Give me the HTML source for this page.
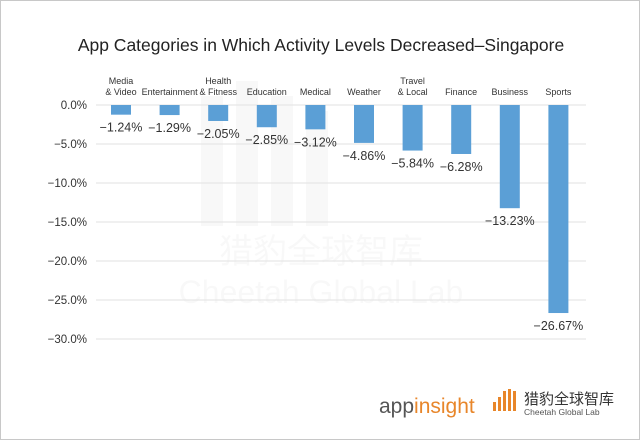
<!DOCTYPE html>
<html><head><meta charset="utf-8"><style>
body{margin:0;background:#fff}
#wrap{position:relative;width:638px;height:438px;border:1px solid #c8c8c8;background:#fff;overflow:hidden}
svg{position:absolute;left:0;top:0}
text{font-family:"Liberation Sans","Noto Sans CJK SC",sans-serif}
</style></head><body>
<div id="wrap">
<svg id="c" width="640" height="440">
<g opacity="0.025">
<rect x="200" y="95" width="22" height="130" fill="#000"/><rect x="235" y="80" width="22" height="145" fill="#000"/><rect x="270" y="95" width="22" height="130" fill="#000"/><rect x="305" y="110" width="22" height="115" fill="#000"/>
<text x="320" y="262" font-size="34" text-anchor="middle" fill="#000">猎豹全球智库</text>
<text x="320" y="302" font-size="32" text-anchor="middle" fill="#000">Cheetah Global Lab</text>
</g>
<text x="320" y="50" font-size="17.5" text-anchor="middle" fill="#222">App Categories in Which Activity Levels Decreased–Singapore</text>
<g id="grid"></g><g id="bars"></g>
<g>
<text x="378" y="412" font-size="21" fill="#555">app<tspan fill="#e8862a">insight</tspan></text>
</g>
<g>
<rect x="492" y="401" width="3" height="9" fill="#e8862a"/><rect x="497" y="396" width="3" height="14" fill="#e8862a"/><rect x="502" y="390" width="3" height="20" fill="#e8862a"/><rect x="507" y="388" width="3" height="22" fill="#e8862a"/><rect x="512" y="390" width="3" height="20" fill="#e8862a"/>
<text x="523" y="403" font-size="15" fill="#333">猎豹全球智库</text>
<text x="523" y="414" font-size="8.5" fill="#555">Cheetah Global Lab</text>
</g>
</svg></div>
<script>
const categories=[["Media","& Video"],["Entertainment"],["Health","& Fitness"],["Education"],["Medical"],["Weather"],["Travel","& Local"],["Finance"],["Business"],["Sports"]];
const values=[-1.24,-1.29,-2.05,-2.85,-3.12,-4.86,-5.84,-6.28,-13.23,-26.67];
const valueLabels=["−1.24%","−1.29%","−2.05%","−2.85%","−3.12%","−4.86%","−5.84%","−6.28%","−13.23%","−26.67%"];
const ticks=[0,-5,-10,-15,-20,-25,-30];
const tickLabels=["0.0%","−5.0%","−10.0%","−15.0%","−20.0%","−25.0%","−30.0%"];
const NS="http://www.w3.org/2000/svg";
const y=v=>104+(-v)*7.8;
const x=i=>120+i*48.6;
function mk(t,a,p){const e=document.createElementNS(NS,t);for(const k in a)e.setAttribute(k,a[k]);p.appendChild(e);return e;}
const g=document.getElementById('grid'),b=document.getElementById('bars');
ticks.forEach((t,i)=>{
 const l=mk('line',{x1:95,x2:585,y1:y(t),y2:y(t),stroke:'#e2e2e2','stroke-width':1},g);
 
 
 const tx=mk('text',{x:86,y:y(t)+4,'font-size':11.5,'text-anchor':'end',fill:'#333'},g);
 tx.textContent=tickLabels[i];
 
 
});
values.forEach((v,i)=>{
 const r=mk('rect',{x:x(i)-10,y:y(0),width:20,height:y(v)-y(0),fill:'#5b9fd6'},b);
 
 
 const t=mk('text',{x:x(i),y:y(v)+17,'font-size':12.5,'text-anchor':'middle',fill:'#333'},b);
 t.textContent=valueLabels[i];
 
 
 const c=categories[i];
 c.forEach((s,j)=>{
  const ct=mk('text',{x:x(i),y:94-(c.length-1-j)*11,'font-size':9,'text-anchor':'middle',fill:'#333'},b);
  ct.textContent=s;
  
  
 });
});
</script>
</body></html>
